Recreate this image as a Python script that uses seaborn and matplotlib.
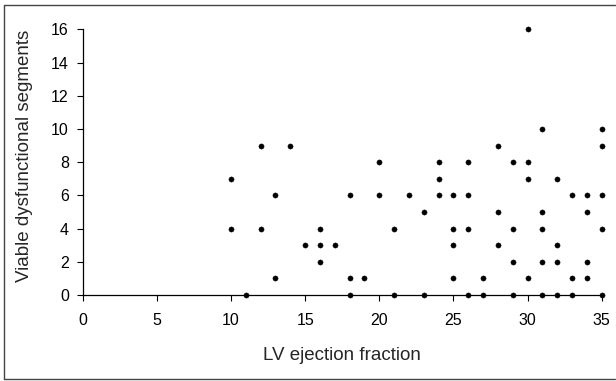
import matplotlib
matplotlib.use("Agg")
import matplotlib.pyplot as plt
import seaborn as sns
import pandas as pd
from matplotlib.lines import Line2D

# Data
ef = [10, 10, 11, 12, 12, 13, 13, 14, 15, 16, 16, 16, 17, 18, 18, 18, 19,
      20, 20, 21, 21, 22, 23, 23, 24, 24, 24, 25, 25, 25, 25,
      26, 26, 26, 26, 27, 27, 28, 28, 28, 29, 29, 29, 29,
      30, 30, 30, 30, 31, 31, 31, 31, 31, 32, 32, 32, 32,
      33, 33, 33, 34, 34, 34, 34, 35, 35, 35, 35, 35]
segments = [7, 4, 0, 9, 4, 6, 1, 9, 3, 4, 3, 2, 3, 6, 1, 0, 1,
            8, 6, 4, 0, 6, 5, 0, 8, 7, 6, 6, 4, 3, 1,
            8, 6, 4, 0, 1, 0, 9, 5, 3, 8, 4, 2, 0,
            16, 8, 7, 1, 10, 5, 4, 2, 0, 7, 3, 2, 0,
            6, 1, 0, 6, 5, 2, 1, 10, 9, 6, 4, 0]
x_ticks = [0, 5, 10, 15, 20, 25, 30, 35]
y_ticks = [0, 2, 4, 6, 8, 10, 12, 14, 16]

df = pd.DataFrame({"LV ejection fraction": ef,
                   "Viable dysfunctional segments": segments})

sns.set_theme(style="ticks")
plt.rcParams["font.family"] = ["Liberation Sans", "DejaVu Sans"]

W, H = 616, 381
fig = plt.figure(figsize=(W / 100, H / 100), dpi=100)
ax = fig.add_axes([82.7 / W, 1 - 295 / H, (601.7 - 82.7) / W, (295 - 29.3) / H])

sns.scatterplot(data=df, x="LV ejection fraction", y="Viable dysfunctional segments",
                ax=ax, color="black", s=14, edgecolor="black", linewidth=0.3,
                clip_on=False, zorder=5)

ax.set_xlim(0, 35)
ax.set_ylim(0, 16)
ax.set_xticks(x_ticks)
ax.set_yticks(y_ticks)
ax.tick_params(axis="both", direction="out", length=4, width=0.8, colors="black",
               labelsize=11.5)
ax.tick_params(axis="y", pad=6)
ax.tick_params(axis="x", pad=9)
sns.despine(ax=ax)
for sp in ["left", "bottom"]:
    ax.spines[sp].set_color("black")
    ax.spines[sp].set_linewidth(0.9)

ax.set_xlabel("LV ejection fraction", fontsize=13.5)
ax.set_ylabel("Viable dysfunctional segments", fontsize=13.5)
ax.xaxis.set_label_coords(0.5, -(356 - 295) / (295 - 29.3))
ax.yaxis.set_label_coords(-(82.7 - 25) / (601.7 - 82.7), (295 - 156) / (295 - 29.3))
ax.xaxis.label.set_va("center")
ax.yaxis.label.set_va("center")

# Frame around the figure (top, left, bottom)
lw = 1.0
fig.add_artist(Line2D([4 / W, 615 / W], [1 - 5 / H, 1 - 5 / H], transform=fig.transFigure,
                      color="#444444", linewidth=lw))
fig.add_artist(Line2D([4 / W, 4 / W], [1 - 5 / H, 1 - 379 / H], transform=fig.transFigure,
                      color="#444444", linewidth=lw))
fig.add_artist(Line2D([4 / W, 615 / W], [1 - 379 / H, 1 - 379 / H], transform=fig.transFigure,
                      color="#444444", linewidth=lw))

fig.savefig("out.png", dpi=100, facecolor="white")
